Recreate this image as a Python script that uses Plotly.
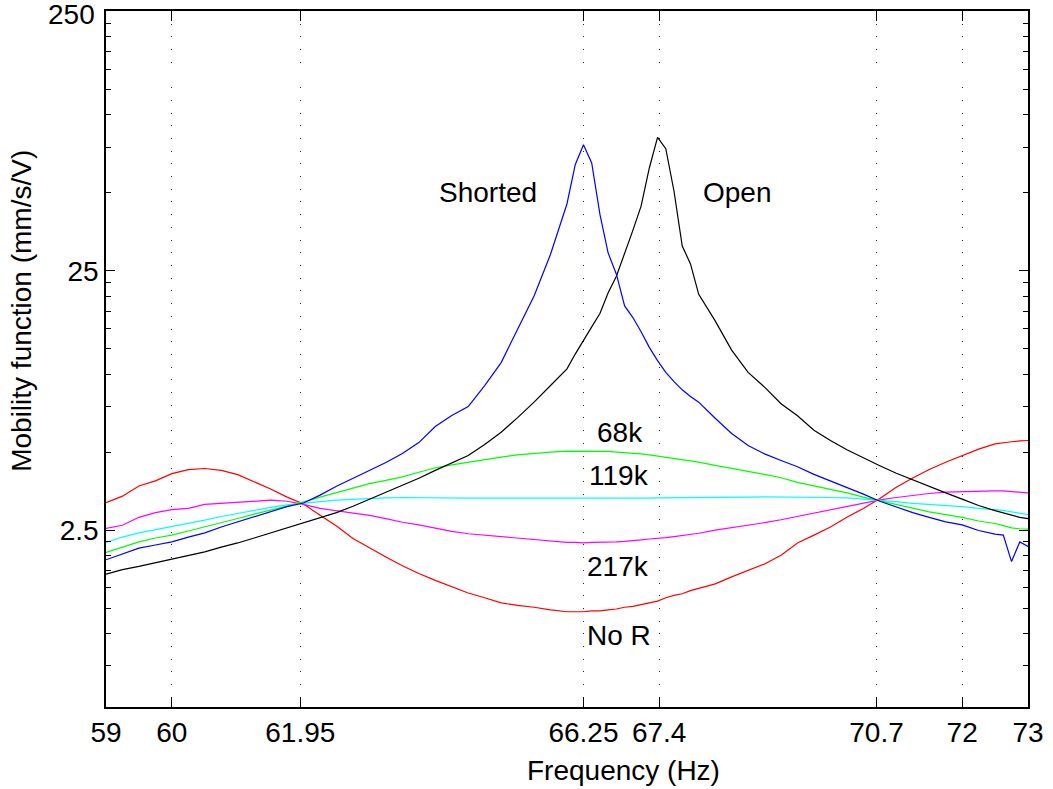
import plotly.graph_objects as go

# Frequency samples (Hz)
freq = [59, 59.25, 59.5, 59.75, 60, 60.25, 60.5, 60.75, 61, 61.25, 61.5, 61.75,
        62, 62.25, 62.5, 62.75, 63, 63.25, 63.5, 63.75, 64, 64.25, 64.5, 64.75,
        65, 65.25, 65.5, 65.75, 66,
        66.125, 66.25, 66.375, 66.5, 66.625, 66.75, 66.875, 67, 67.125, 67.25,
        67.375, 67.5, 67.625, 67.75, 67.875, 68,
        68.25, 68.5, 68.75, 69, 69.25, 69.5, 69.75, 70, 70.25, 70.5, 70.75, 71,
        71.25, 71.5, 71.75, 72, 72.25, 72.5,
        72.625, 72.75, 72.875, 73]

# Mobility function (mm/s/V)
open_circuit = [1.69, 1.76, 1.81, 1.87, 1.93, 2.00, 2.06, 2.15, 2.23, 2.33, 2.44, 2.56,
                2.67, 2.79, 2.92, 3.09, 3.29, 3.50, 3.72, 3.96, 4.25, 4.54, 4.85, 5.35,
                5.96, 6.79, 7.79, 9.03, 10.47,
                11.94, 13.56, 15.21, 17.11, 20.60, 23.83, 29.13, 35.83, 44.43, 62.37,
                81.91, 74.03, 50.73, 31.19, 26.60, 20.30,
                16.04, 12.37, 10.15, 8.90, 7.68, 6.90, 6.07, 5.54, 5.10, 4.74, 4.43, 4.14,
                3.90, 3.69, 3.48, 3.29, 3.11, 2.97,
                2.91, 2.85, 2.80, 2.77]

shorted = [1.92, 2.02, 2.13, 2.19, 2.25, 2.35, 2.44, 2.57, 2.69, 2.82, 2.94, 3.08,
           3.18, 3.41, 3.69, 3.96, 4.25, 4.56, 4.94, 5.44, 6.27, 6.92, 7.49, 9.03,
           11.07, 14.90, 20.01, 28.97, 45.4,
           64.2, 76.7, 65.2, 41.3, 29.3, 24.27, 18.32, 16.52, 14.56, 12.67,
           11.26, 10.15, 9.35, 8.69, 8.19, 7.79,
           6.75, 5.90, 5.30, 4.92, 4.64, 4.39, 4.10, 3.87, 3.65, 3.44, 3.23, 3.06,
           2.92, 2.80, 2.69, 2.62, 2.49, 2.41,
           2.39, 1.89, 2.25, 2.16]

r68k = [2.05, 2.15, 2.25, 2.33, 2.39, 2.48, 2.57, 2.67, 2.77, 2.88, 2.98, 3.09,
        3.21, 3.35, 3.48, 3.62, 3.78, 3.89, 4.01, 4.18, 4.35, 4.46, 4.57, 4.68,
        4.78, 4.88, 4.95, 5.00, 5.04,
        5.04, 5.05, 5.04, 5.04, 5.03, 5.00, 4.98, 4.95, 4.92, 4.88,
        4.83, 4.78, 4.73, 4.68, 4.63, 4.57,
        4.44, 4.31, 4.21, 4.10, 3.98, 3.82, 3.71, 3.60, 3.48, 3.35, 3.24, 3.15,
        3.04, 2.94, 2.87, 2.80, 2.71, 2.65,
        2.60, 2.55, 2.53, 2.52]

r119k = [2.24, 2.35, 2.44, 2.51, 2.57, 2.65, 2.73, 2.82, 2.90, 2.98, 3.06, 3.13,
         3.18, 3.22, 3.26, 3.29, 3.31, 3.33, 3.34, 3.33, 3.32, 3.32, 3.32, 3.32,
         3.32, 3.31, 3.31, 3.31, 3.31,
         3.31, 3.30, 3.30, 3.31, 3.31, 3.31, 3.32, 3.32, 3.32, 3.32,
         3.33, 3.33, 3.33, 3.33, 3.34, 3.34,
         3.34, 3.35, 3.35, 3.36, 3.36, 3.36, 3.35, 3.34, 3.33, 3.30, 3.26, 3.22,
         3.17, 3.14, 3.11, 3.08, 3.03, 3.00,
         2.98, 2.94, 2.91, 2.87]

r217k = [2.54, 2.61, 2.80, 2.92, 3.00, 3.03, 3.14, 3.17, 3.20, 3.23, 3.26, 3.23,
         3.14, 3.03, 2.97, 2.90, 2.85, 2.77, 2.68, 2.62, 2.54, 2.47, 2.42, 2.39,
         2.36, 2.33, 2.29, 2.27, 2.24,
         2.24, 2.23, 2.24, 2.24, 2.25, 2.25, 2.26, 2.27, 2.29, 2.31,
         2.32, 2.34, 2.36, 2.38, 2.40, 2.43,
         2.50, 2.55, 2.61, 2.67, 2.74, 2.82, 2.92, 3.00, 3.08, 3.17, 3.27, 3.34,
         3.40, 3.46, 3.50, 3.52, 3.53, 3.54,
         3.54, 3.52, 3.50, 3.48]

no_r = [3.19, 3.38, 3.70, 3.87, 4.13, 4.28, 4.32, 4.25, 4.09, 3.84, 3.60, 3.35,
        3.15, 2.85, 2.59, 2.32, 2.13, 1.97, 1.82, 1.70, 1.60, 1.51, 1.43, 1.37,
        1.31, 1.28, 1.26, 1.23, 1.21,
        1.21, 1.21, 1.22, 1.22, 1.23, 1.24, 1.26, 1.27, 1.29, 1.31,
        1.33, 1.37, 1.40, 1.42, 1.46, 1.49,
        1.55, 1.65, 1.75, 1.85, 2.00, 2.23, 2.39, 2.57, 2.80, 3.03, 3.31, 3.66,
        3.97, 4.28, 4.57, 4.85, 5.13, 5.38,
        5.44, 5.48, 5.52, 5.54]

x_ticks = [59, 60, 61.95, 66.25, 67.4, 70.7, 72, 73]
x_ticktext = ["59", "60", "61.95", "66.25", "67.4", "70.7", "72", "73"]
y_ticks = [2.5, 25, 250]
y_ticktext = ["2.5", "25", ""]   # top label "250" drawn as annotation (avoids clipping)
y_top_label = "250"
y_minor = [0.75, 1.0, 1.25, 1.5, 1.75, 2.0, 2.25,
           5, 7.5, 10, 12.5, 15, 17.5, 20, 22.5,
           50, 75, 100, 125, 150, 175, 200, 225]

series = [
    ("No R", no_r, "#FF0000"),
    ("217k", r217k, "#FF00FF"),
    ("119k", r119k, "#00FFFF"),
    ("68k", r68k, "#00FF00"),
    ("Open", open_circuit, "#000000"),
    ("Shorted", shorted, "#0000FF"),
]

FONT = "Liberation Sans, Arial, Helvetica, sans-serif"
FS = 28

fig = go.Figure()
for name, vals, col in series:
    fig.add_trace(go.Scatter(x=freq, y=vals, mode="lines", name=name,
                             line=dict(color=col, width=1.2), showlegend=False))

labels = [
    ("Shorted", 0.4147, 0.7386),
    ("Open", 0.6847, 0.7386),
    ("68k", 0.5573, 0.3939),
    ("119k", 0.5562, 0.3322),
    ("217k", 0.5551, 0.2015),
    ("No R", 0.5562, 0.1024),
]
for txt, px, py in labels:
    fig.add_annotation(text=txt, x=px, y=py, xref="paper", yref="paper",
                       showarrow=False, xanchor="center", yanchor="middle",
                       font=dict(size=FS, color="black", family=FONT))

fig.add_annotation(text=y_top_label, x=-0.0098, y=0.9943, xref="paper", yref="paper",
                   showarrow=False, xanchor="right", yanchor="middle",
                   xshift=0, font=dict(size=FS, color="black", family=FONT))

fig.add_annotation(text="Frequency (Hz)", x=0.5617, y=-0.0916, xref="paper", yref="paper",
                   showarrow=False, xanchor="center", yanchor="middle",
                   font=dict(size=FS, color="black", family=FONT))
fig.add_annotation(text="Mobility function (mm/s/V)", x=-0.0911, y=0.5692,
                   xref="paper", yref="paper", textangle=-90,
                   showarrow=False, xanchor="center", yanchor="middle",
                   font=dict(size=FS, color="black", family=FONT))

fig.update_layout(
    width=1053, height=789,
    margin=dict(l=106, r=25, t=11, b=82),
    paper_bgcolor="white", plot_bgcolor="white",
    font=dict(family=FONT, size=FS, color="black"),
    xaxis=dict(range=[59, 73], tickmode="array", tickvals=x_ticks, ticktext=x_ticktext,
               ticks="inside", ticklen=10, tickwidth=1, tickcolor="black",
               showline=True, linecolor="black", linewidth=1.5, mirror="ticks",
               showgrid=True, gridcolor="#222222", gridwidth=1, griddash="1px,11.7px",
               zeroline=False, automargin=False, ticklabeloverflow="allow",
               tickfont=dict(size=FS, family=FONT, color="black")),
    yaxis=dict(type="log", range=[-0.2846, 2.4006], tickmode="array",
               tickvals=y_ticks, ticktext=y_ticktext,
               ticks="inside", ticklen=9, tickwidth=1, tickcolor="black",
               showline=True, linecolor="black", linewidth=1.5, mirror="ticks",
               showgrid=False, zeroline=False, automargin=False,
               ticklabeloverflow="allow",
               tickfont=dict(size=FS, family=FONT, color="black"),
               minor=dict(tickmode="array", tickvals=y_minor, ticks="inside",
                          ticklen=5, tickwidth=1, tickcolor="black", showgrid=False)),
)

fig.write_html("out.html", config={"displayModeBar": False},
               post_script="document.body.style.margin='0px';document.body.style.overflow='hidden';")
